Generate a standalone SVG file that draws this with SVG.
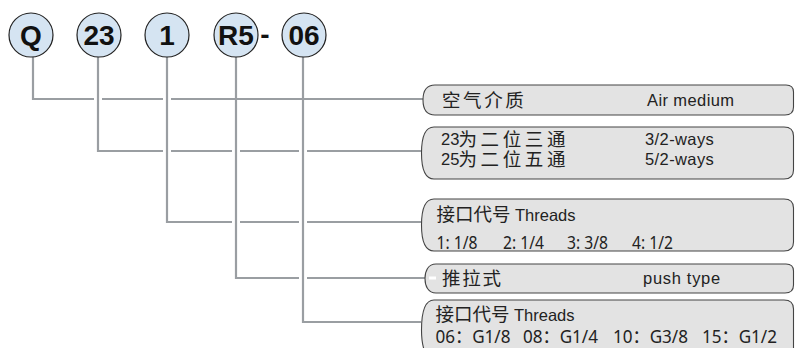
<svg xmlns="http://www.w3.org/2000/svg" width="795" height="348" viewBox="0 0 795 348">
<style>
.circ{fill:#d5e4f2;stroke:#222;stroke-width:1.2}
.ct{font-family:"Liberation Sans",Arial,sans-serif;font-weight:bold;font-size:28px;fill:#111;text-anchor:middle}
.box{fill:#e3e3e3;stroke:#444;stroke-width:1.1}
.conn{fill:none;stroke:#9a9ea2;stroke-width:2.2}
.cn{font-family:"Noto Sans CJK SC","Noto Sans",sans-serif;font-size:18.5px;fill:#222}
.en{font-family:"Liberation Sans",Arial,sans-serif;font-size:16.5px;fill:#222;letter-spacing:0.4px}
.nt{font-family:"Noto Sans","Noto Sans CJK SC",sans-serif;font-size:18.5px;fill:#222}
</style>
<rect width="795" height="348" fill="#fff"/>
<g id="connectors">
<path class="conn" d="M33,57 V99 H94 M102,99 H163 M171,99 H423"/>
<path class="conn" d="M98,57 V151 H163 M171,151 H232 M240,151 H299 M307,151 H421"/>
<path class="conn" d="M167,57 V222 H232 M240,222 H299 M307,222 H421"/>
<path class="conn" d="M236,57 V278 H299 M307,278 H425"/>
<path class="conn" d="M303,57 V322 H421"/>
</g>
<g id="node-Q"><circle class="circ" cx="31" cy="35" r="22"/><text class="ct" x="31" y="45">Q</text></g>
<g id="node-23"><circle class="circ" cx="99" cy="35" r="22"/><text class="ct" x="99" y="45">23</text></g>
<g id="node-1"><circle class="circ" cx="167" cy="35" r="22"/><text class="ct" x="167" y="45">1</text></g>
<g id="node-R5"><circle class="circ" cx="236" cy="35" r="22"/><text class="ct" x="236" y="45">R5</text></g>
<g id="dash"><text class="ct" x="265" y="44">-</text></g>
<g id="node-06"><circle class="circ" cx="304" cy="35" r="22"/><text class="ct" x="304" y="45">06</text></g>

<g id="box-medium">
<path class="box" d="M435,85 H786 Q793.5,85 793.5,92 V107 Q793.5,115 785,115 H435 C426,115 423,108 423,100 C423,92 426,85 435,85 Z"/>
<text class="cn" x="442" y="106.5" letter-spacing="2.6">空气介质</text>
<text class="en" x="647" y="106">Air medium</text>
</g>
<g id="box-ways">
<path class="box" d="M434,127 H784 Q793.5,127 793.5,136 V170 Q793.5,179 784,179 H434 C425,179 421.5,168 421.5,153 C421.5,138 425,127 434,127 Z"/>
<text class="en" x="441" y="145" style="letter-spacing:0">23</text>
<text class="cn" x="458.5" y="145.5" letter-spacing="3.6">为二位三通</text>
<text class="en" x="441" y="165" style="letter-spacing:0">25</text>
<text class="cn" x="458.5" y="165.5" letter-spacing="3.6">为二位五通</text>
<text class="en" x="645" y="145">3/2-ways</text>
<text class="en" x="645" y="165">5/2-ways</text>
</g>
<g id="box-threads1">
<path class="box" d="M434,199 H784 Q793.5,199 793.5,208 V242 Q793.5,251 784,251 H434 C425,251 421.5,240 421.5,225 C421.5,210 425,199 434,199 Z"/>
<text class="cn" x="436.5" y="221" font-size="17">接口代号</text>
<text class="en" x="515" y="221" style="letter-spacing:0">Threads</text>
<text class="nt" x="436.5" y="249" textLength="41" lengthAdjust="spacingAndGlyphs">1: 1/8</text>
<text class="nt" x="503" y="249" textLength="41" lengthAdjust="spacingAndGlyphs">2: 1/4</text>
<text class="nt" x="567" y="249" textLength="41" lengthAdjust="spacingAndGlyphs">3: 3/8</text>
<text class="nt" x="632" y="249" textLength="41" lengthAdjust="spacingAndGlyphs">4: 1/2</text>
</g>
<g id="box-push">
<path class="box" d="M436,264 H786 Q793.5,264 793.5,271 V285 Q793.5,293 785,293 H436 C428,293 425,286 425,278.5 C425,271 428,264 436,264 Z"/>
<rect x="429" y="276.5" width="7" height="3" fill="#fff"/>
<text class="cn" x="442" y="285" letter-spacing="1.8">推拉式</text>
<text class="en" x="643" y="284" style="letter-spacing:0.7px">push type</text>
</g>
<g id="box-threads2">
<path class="box" d="M434,300 H784 Q793.5,300 793.5,309 V360 H434 C425,360 421.5,345 421.5,330 C421.5,312 425,300 434,300 Z"/>
<text class="cn" x="435.5" y="321" font-size="17">接口代号</text>
<text class="en" x="514" y="321" style="letter-spacing:0">Threads</text>
<text class="nt" x="435.5" y="343" font-size="17.5" textLength="75" lengthAdjust="spacingAndGlyphs">06：G1/8</text>
<text class="nt" x="523" y="343" font-size="17.5" textLength="75" lengthAdjust="spacingAndGlyphs">08：G1/4</text>
<text class="nt" x="613" y="343" font-size="17.5" textLength="75" lengthAdjust="spacingAndGlyphs">10：G3/8</text>
<text class="nt" x="702" y="343" font-size="17.5" textLength="75" lengthAdjust="spacingAndGlyphs">15：G1/2</text>
</g>
</svg>
